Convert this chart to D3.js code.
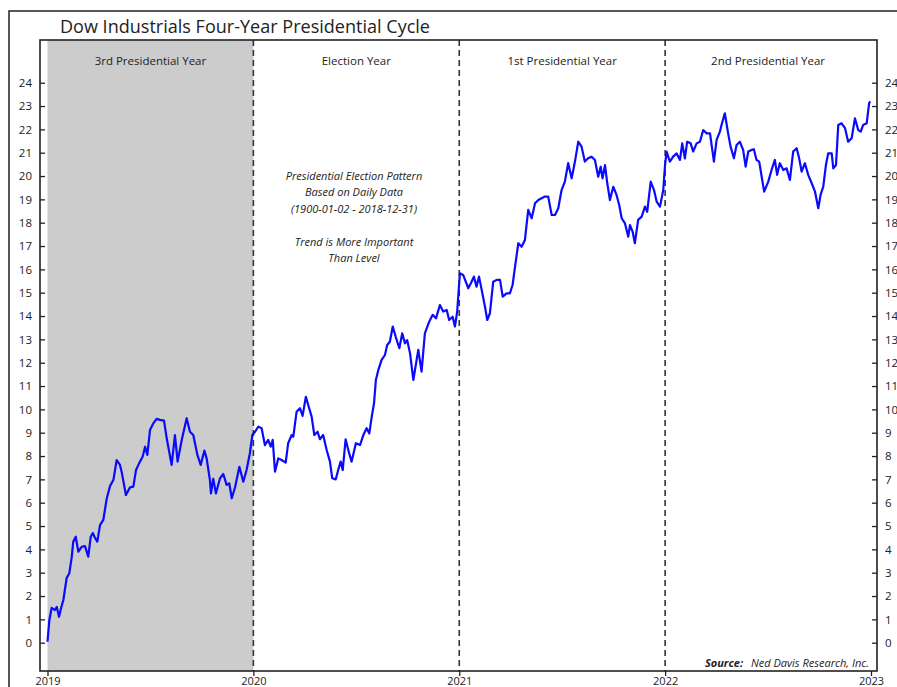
<!DOCTYPE html>
<html><head><meta charset="utf-8">
<script src="https://cdn.jsdelivr.net/npm/d3@7"></script>
<style>body{margin:0;background:#fff}svg{display:block}text{font-family:"Open Sans","Noto Sans",sans-serif;fill:#222}</style>
</head><body><svg id="c" width="897" height="687"></svg>
<script>
const title = "Dow Industrials Four-Year Presidential Cycle";
const yearTicks = [2019, 2020, 2021, 2022, 2023];
const valueTicks = d3.range(0, 25);
const phaseStarts = [2019, 2020, 2021, 2022];
const phaseLabels = ["3rd Presidential Year", "Election Year", "1st Presidential Year", "2nd Presidential Year"];
const noteLines = ["Presidential Election Pattern", "Based on Daily Data", "(1900-01-02 - 2018-12-31)", "", "Trend is More Important", "Than Level"];
// years since start of cycle (2019) and cycle value
const cycleT = [0.000,0.009,0.020,0.036,0.045,0.056,0.066,0.077,0.093,0.106,0.118,0.125,0.137,0.150,0.166,0.182,0.198,0.210,0.220,0.231,0.242,0.255,0.271,0.288,0.304,0.320,0.336,0.352,0.360,0.381,0.401,0.417,0.430,0.449,0.462,0.474,0.485,0.498,0.514,0.530,0.546,0.566,0.579,0.603,0.619,0.632,0.652,0.676,0.692,0.708,0.728,0.744,0.762,0.773,0.789,0.794,0.805,0.818,0.838,0.854,0.870,0.883,0.895,0.911,0.932,0.951,0.967,0.983,0.995,
1.008,1.024,1.040,1.056,1.072,1.084,1.094,1.105,1.121,1.137,1.157,1.169,1.186,1.194,1.210,1.226,1.239,1.255,1.271,1.283,1.296,1.312,1.323,1.339,1.356,1.372,1.383,1.400,1.412,1.424,1.434,1.448,1.461,1.477,1.498,1.518,1.534,1.550,1.563,1.575,1.586,1.595,1.607,1.623,1.639,1.650,1.663,1.677,1.691,1.709,1.723,1.736,1.747,1.761,1.777,1.793,1.801,1.817,1.833,1.854,1.871,1.887,1.906,1.922,1.939,1.951,1.968,1.979,1.990,1.998,
2.003,2.019,2.044,2.060,2.071,2.084,2.096,2.109,2.125,2.136,2.149,2.165,2.182,2.198,2.211,2.230,2.246,2.259,2.271,2.287,2.303,2.319,2.335,2.352,2.368,2.384,2.400,2.416,2.432,2.449,2.465,2.481,2.497,2.513,2.529,2.546,2.562,2.578,2.594,2.610,2.626,2.643,2.659,2.675,2.687,2.696,2.708,2.719,2.732,2.748,2.764,2.777,2.789,2.805,2.821,2.829,2.842,2.853,2.869,2.886,2.902,2.913,2.930,2.946,2.959,2.975,2.991,
2.999,3.007,3.023,3.039,3.056,3.072,3.083,3.096,3.107,3.124,3.136,3.153,3.169,3.185,3.202,3.218,3.237,3.250,3.266,3.274,3.290,3.306,3.318,3.334,3.347,3.363,3.379,3.391,3.404,3.420,3.431,3.444,3.457,3.469,3.481,3.501,3.517,3.533,3.544,3.557,3.574,3.590,3.606,3.622,3.639,3.651,3.663,3.679,3.695,3.712,3.728,3.736,3.744,3.755,3.768,3.781,3.792,3.809,3.817,3.830,3.841,3.857,3.874,3.889,3.906,3.922,3.938,3.950,3.962,3.979,3.991,3.996];
const cycleV = [0.04,0.97,1.49,1.40,1.53,1.11,1.49,1.83,2.77,2.98,3.69,4.33,4.54,3.90,4.11,4.14,3.69,4.54,4.70,4.49,4.33,5.04,5.26,6.19,6.72,6.97,7.83,7.62,7.33,6.33,6.66,6.69,7.40,7.76,7.97,8.40,8.05,9.12,9.40,9.59,9.55,9.52,8.76,7.62,8.90,7.76,8.69,9.62,9.04,8.90,8.05,7.62,8.23,7.90,6.97,6.40,7.02,6.40,7.05,7.23,6.76,6.83,6.19,6.66,7.54,6.90,7.40,8.12,8.90,
9.04,9.26,9.19,8.47,8.69,8.40,8.69,7.33,7.90,7.83,7.72,8.55,8.90,8.83,9.90,10.05,9.72,10.54,10.05,9.69,8.90,9.04,8.72,8.90,8.26,7.76,7.05,7.00,7.40,7.76,7.40,8.72,8.26,7.76,8.55,8.47,8.90,9.19,8.97,9.69,10.26,11.26,11.69,12.12,12.33,12.76,12.90,13.55,13.12,12.62,13.26,12.83,12.97,12.40,11.26,12.12,12.55,11.62,13.26,13.76,14.05,13.90,14.47,14.19,14.26,13.83,13.97,13.55,14.19,15.20,
15.83,15.76,15.19,15.47,15.69,15.26,15.69,15.12,14.40,13.83,14.12,15.47,15.55,15.55,14.83,14.97,14.97,15.33,16.12,17.12,16.97,17.26,18.55,18.19,18.83,18.97,19.05,19.12,19.12,18.33,18.33,18.62,19.40,19.76,20.55,19.90,20.62,21.47,21.26,20.62,20.76,20.83,20.69,19.97,20.40,19.90,20.47,19.69,18.97,19.54,19.19,18.76,18.19,17.97,17.40,17.90,17.62,17.12,18.12,18.26,18.69,18.47,19.76,19.40,18.90,18.69,19.40,
20.40,21.05,20.62,20.83,20.97,20.69,21.40,20.76,21.47,21.40,21.05,21.40,21.47,21.97,21.83,21.83,20.62,21.55,21.90,22.19,22.69,21.83,21.26,20.76,21.33,21.47,21.12,20.40,21.05,21.12,21.15,20.69,20.62,19.97,19.33,19.76,20.26,20.69,20.05,20.55,20.26,20.33,19.83,21.05,21.19,20.76,20.19,20.55,20.05,19.69,19.33,18.97,18.62,19.19,19.54,20.47,20.97,20.97,20.33,20.47,22.19,22.26,22.05,21.47,21.62,22.47,21.97,21.90,22.19,22.26,23.12,23.20];
const sourceLabel = "Source:";
const sourceText = "Ned Davis Research, Inc.";

const svg = d3.select("#c");
const L = 40, R = 877, T = 40, B = 671;
const x = d3.scaleLinear().domain([2019, 2023]).range([47.5, 871]);
const y = d3.scaleLinear().domain([0, 24]).range([642.7, 82.7]);

// outer frame
svg.append("rect").attr("x", 9).attr("y", 11).attr("width", 920).attr("height", 700)
  .attr("fill", "none").attr("stroke", "#222").attr("stroke-width", 1.5);

svg.append("text").attr("x", 60).attr("y", 33).attr("font-size", 19)
  .attr("textLength", 370).attr("lengthAdjust", "spacingAndGlyphs").text(title);

// shaded 3rd presidential year
svg.append("rect").attr("x", x(2019)).attr("y", T).attr("width", x(2020) - x(2019)).attr("height", B - T)
  .attr("fill", "#cccccc");

// dashed dividers
svg.selectAll("line.div").data(phaseStarts.slice(1)).join("line").attr("class", "div")
  .attr("x1", d => x(d)).attr("x2", d => x(d)).attr("y1", T).attr("y2", B)
  .attr("stroke", "#333").attr("stroke-width", 1.6).attr("stroke-dasharray", "6,4");

// phase labels
svg.selectAll("text.ph").data(phaseLabels).join("text").attr("class", "ph")
  .attr("x", (d, i) => (x(phaseStarts[i]) + x(phaseStarts[i] + 1)) / 2).attr("y", 65)
  .attr("text-anchor", "middle").attr("font-size", 11.5).attr("font-family", "Lato, 'Open Sans', sans-serif")
  .text(d => d);

// note
svg.selectAll("text.note").data(noteLines).join("text").attr("class", "note")
  .attr("x", 354).attr("y", (d, i) => 180 + i * 16.4)
  .attr("text-anchor", "middle").attr("font-size", 11).attr("font-style", "italic")
  .attr("font-family", "Lato, 'Open Sans', sans-serif").text(d => d);

// axes
const gl = svg.append("g").attr("transform", `translate(${L},0)`)
  .call(d3.axisLeft(y).tickValues(valueTicks).tickSizeInner(-5).tickSizeOuter(0).tickPadding(8));
const gr = svg.append("g").attr("transform", `translate(${R},0)`)
  .call(d3.axisRight(y).tickValues(valueTicks).tickSizeInner(-5).tickSizeOuter(0).tickPadding(8));
const gb = svg.append("g").attr("transform", `translate(0,${B})`)
  .call(d3.axisBottom(x).tickValues(yearTicks).tickFormat(d3.format("d")).tickSizeInner(5).tickSizeOuter(0).tickPadding(1));
[gl, gr, gb].forEach(g => {
  g.select(".domain").remove();
  g.selectAll(".tick line").attr("stroke", "#222").attr("stroke-width", 1.3);
  g.selectAll(".tick text").attr("fill", "#2a2a3a").attr("font-size", 11.5)
    .attr("font-family", "Lato, 'Open Sans', sans-serif");
});
gb.selectAll(".tick text").attr("font-size", 11);

// plot frame
svg.append("rect").attr("x", L).attr("y", T).attr("width", R - L).attr("height", B - T)
  .attr("fill", "none").attr("stroke", "#222").attr("stroke-width", 1.6);

// line
const pts = cycleT.map((t, i) => [2019 + t, cycleV[i]]);
svg.append("path").datum(pts)
  .attr("d", d3.line().x(d => x(d[0])).y(d => y(d[1])))
  .attr("fill", "none").attr("stroke", "#0a0aff").attr("stroke-width", 2.2).attr("stroke-linejoin", "round");

// source
const st = svg.append("text").attr("x", 869).attr("y", 667).attr("text-anchor", "end")
  .attr("font-size", 11).attr("font-style", "italic").attr("font-family", "Lato, 'Open Sans', sans-serif");
st.append("tspan").attr("font-weight", "bold").text(sourceLabel);
st.append("tspan").attr("dx", 8).text(sourceText);
</script></body></html>
